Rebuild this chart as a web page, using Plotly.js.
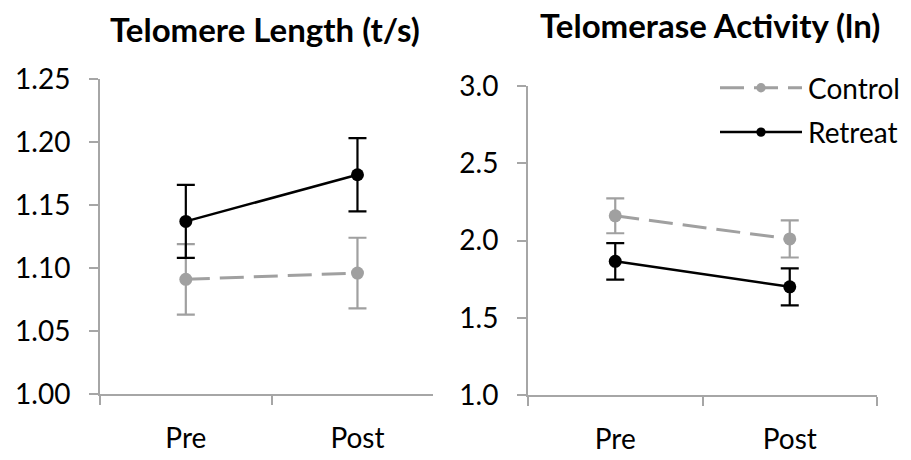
<!DOCTYPE html>
<html>
<head>
<meta charset="utf-8">
<script src="https://cdn.plot.ly/plotly-3.0.1.min.js"></script>
<style>html,body{margin:0;padding:0;background:#fff;}#chart{width:911px;height:460px;}</style>
</head>
<body>
<div id="chart"></div>
<script>
const categories = ["Pre", "Post"];
const seriesNames = ["Control", "Retreat"];

// Telomere Length (t/s)
const lengthControl = [1.091, 1.096];
const lengthControlErr = [0.028, 0.028];
const lengthRetreat = [1.137, 1.174];
const lengthRetreatErr = [0.029, 0.029];

// Telomerase Activity (ln)
const activityControl = [2.16, 2.01];
const activityControlErr = [0.113, 0.12];
const activityRetreat = [1.865, 1.70];
const activityRetreatErr = [0.118, 0.12];

const leftTicks = [1.00, 1.05, 1.10, 1.15, 1.20, 1.25];
const rightTicks = [1.0, 1.5, 2.0, 2.5, 3.0];
const titles = ["Telomere Length (t/s)", "Telomerase Activity (ln)"];

const xPos = categories.map((c, i) => i + 0.5);
const grey = "#A0A0A0";
const axisGrey = "#A6A6A6";
const FONT = "Lato, 'Open Sans', sans-serif";

function series(x, y, err, name, color, dash, xa, ya, show) {
  return {
    type: "scatter", mode: "lines+markers",
    x: x, y: y, name: name, showlegend: show, legendgroup: name,
    xaxis: xa, yaxis: ya,
    line: {color: color, width: dash === "solid" ? 2.5 : 3, dash: dash},
    marker: {color: color, size: 13},
    error_y: {type: "data", array: err, visible: true, color: color, thickness: 2.2, width: 9}
  };
}

const data = [
  series(xPos, lengthControl, lengthControlErr, seriesNames[0], grey, "24px,10px", "x", "y", false),
  series(xPos, lengthRetreat, lengthRetreatErr, seriesNames[1], "#000", "solid", "x", "y", false),
  series(xPos, activityControl, activityControlErr, seriesNames[0], grey, "24px,10px", "x2", "y2", true),
  series(xPos, activityRetreat, activityRetreatErr, seriesNames[1], "#000", "solid", "x2", "y2", true)
];

function xAxis(domain, range, anchor) {
  return {
    domain: domain, range: range, anchor: anchor,
    showline: true, linecolor: axisGrey, linewidth: 2,
    showgrid: false, zeroline: false,
    tickmode: "array", tickvals: xPos, ticktext: categories,
    ticks: "", ticklabelstandoff: 18,
    tickfont: {family: FONT, size: 28, color: "#000"},
    minor: {tickmode: "linear", tick0: 0, dtick: 1, ticks: "outside", ticklen: 9, tickwidth: 2, tickcolor: axisGrey},
    fixedrange: true
  };
}
function yAxis(domain, range, anchor, ticks, fmt) {
  return {
    domain: domain, range: range, anchor: anchor,
    showline: true, linecolor: axisGrey, linewidth: 2,
    showgrid: false, zeroline: false,
    tickmode: "array", tickvals: ticks, ticktext: ticks.map(v => v.toFixed(fmt)),
    ticks: "outside", ticklen: 9, tickwidth: 2, tickcolor: axisGrey,
    ticklabelstandoff: 13,
    tickfont: {family: FONT, size: 28, color: "#000"},
    fixedrange: true
  };
}

const layout = {
  width: 911, height: 460,
  margin: {l: 0, r: 0, t: 0, b: 0},
  paper_bgcolor: "#fff", plot_bgcolor: "#fff",
  showlegend: true,
  xaxis: xAxis([100/911, 433/911], [0, 1.94], "y"),
  yaxis: yAxis([1 - 394/460, 1 - 79/460], [1.00, 1.25], "x", leftTicks, 2),
  xaxis2: xAxis([528/911, 877/911], [0, 2], "y2"),
  yaxis2: yAxis([1 - 395/460, 1 - 86/460], [1.0, 3.0], "x2", rightTicks, 1),
  legend: {
    x: 718/911, y: 1 - 63/460, xanchor: "left", yanchor: "top",
    bgcolor: "rgba(0,0,0,0)", font: {family: FONT, size: 28, color: "#000"},
    itemwidth: 80, tracegroupgap: 5, traceorder: "grouped"
  },
  annotations: [
    {text: "<b>" + titles[0] + "</b>", xref: "paper", yref: "paper", x: 265/911, y: 1 - 29/460,
     xanchor: "center", yanchor: "middle", showarrow: false, font: {family: FONT, size: 33, color: "#000"}},
    {text: "<b>" + titles[1] + "</b>", xref: "paper", yref: "paper", x: 710/911, y: 1 - 25/460,
     xanchor: "center", yanchor: "middle", showarrow: false, font: {family: FONT, size: 33, color: "#000"}}
  ]
};

Plotly.newPlot("chart", data, layout, {displayModeBar: false, staticPlot: true}).then(function (gd) {
  // lengthen the legend line samples and shrink the legend markers, as in the reference
  gd.querySelectorAll(".legend .traces").forEach(function (tr) {
    tr.querySelectorAll(".legendlines path").forEach(function (p) {
      p.setAttribute("d", "M2,0h82");
    });
    tr.querySelectorAll(".legendpoints path.scatterpts").forEach(function (p) {
      p.setAttribute("transform", "translate(43,0) scale(0.72)");
      p.style.transform = "";
    });
  });
});
</script>
</body>
</html>
